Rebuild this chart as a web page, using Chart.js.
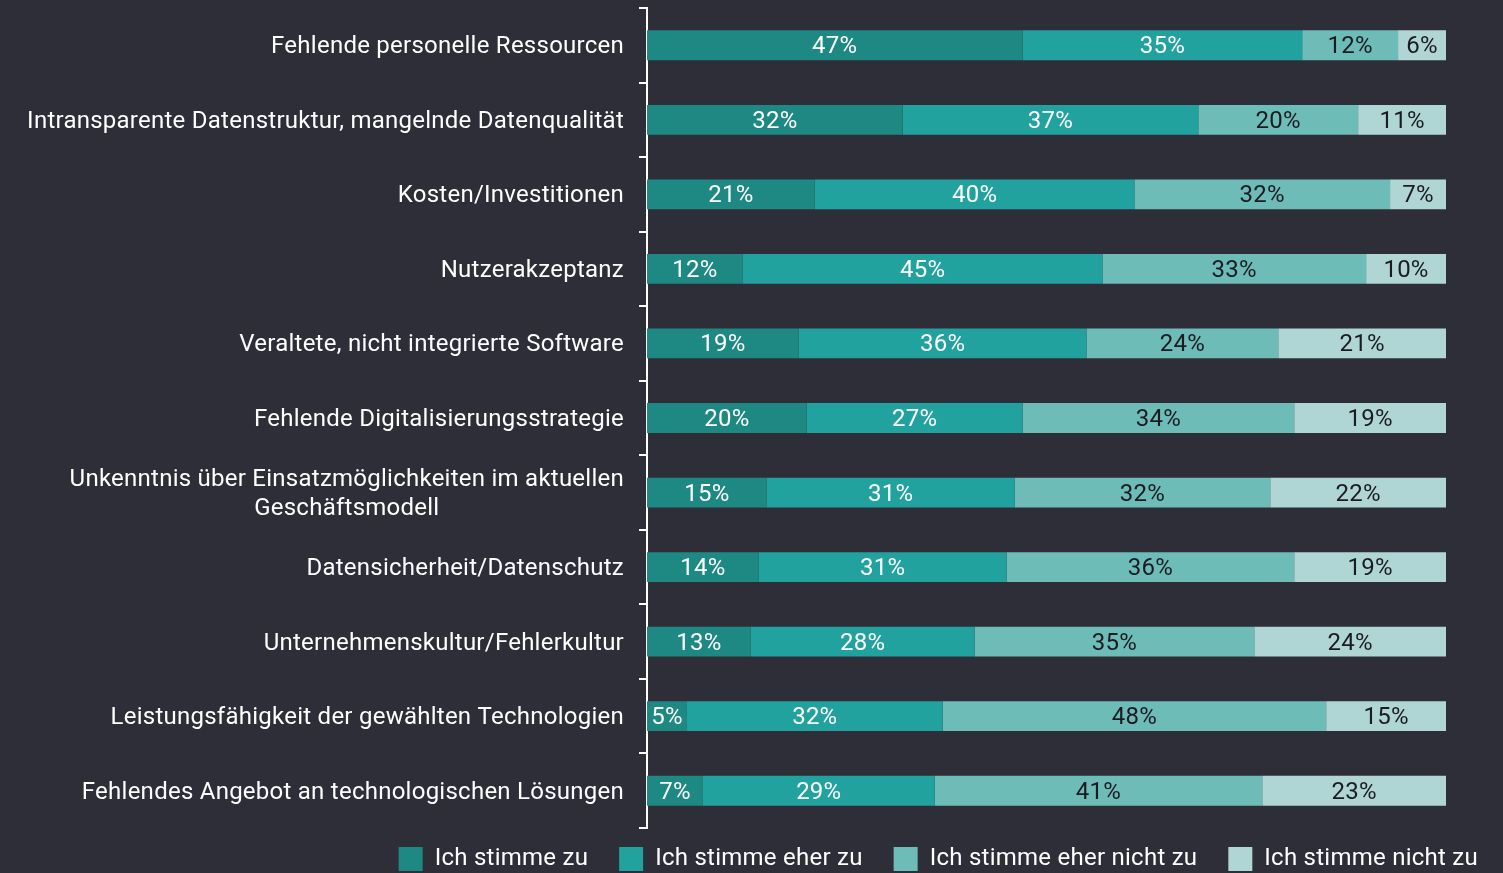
<!DOCTYPE html>
<html>
<head>
<meta charset="utf-8">
<script src="https://cdn.jsdelivr.net/npm/chart.js@4"></script>
<style>
  html, body { margin: 0; padding: 0; background: #2e2e38; overflow: hidden; }
  #wrap { position: relative; width: 1503px; height: 893px; }
</style>
</head>
<body>
<div id="wrap"><canvas id="chart"></canvas></div>
<script>
// Categories (top to bottom)
const categories = [
    'Fehlende personelle Ressourcen',
    'Intransparente Datenstruktur, mangelnde Datenqualität',
    'Kosten/Investitionen',
    'Nutzerakzeptanz',
    'Veraltete, nicht integrierte Software',
    'Fehlende Digitalisierungsstrategie',
    ['Unkenntnis über Einsatzmöglichkeiten im aktuellen', 'Geschäftsmodell'],
    'Datensicherheit/Datenschutz',
    'Unternehmenskultur/Fehlerkultur',
    'Leistungsfähigkeit der gewählten Technologien',
    'Fehlendes Angebot an technologischen Lösungen'
];

// Series values in %
const agree          = [47, 32, 21, 12, 19, 20, 15, 14, 13, 5, 7];
const ratherAgree    = [35, 37, 40, 45, 36, 27, 31, 31, 28, 32, 29];
const ratherDisagree = [12, 20, 32, 33, 24, 34, 32, 36, 35, 48, 41];
const disagree       = [6, 11, 7, 10, 21, 19, 22, 19, 24, 15, 23];

const seriesNames = ['Ich stimme zu', 'Ich stimme eher zu', 'Ich stimme eher nicht zu', 'Ich stimme nicht zu'];

const FONT = 'Roboto, "Open Sans", sans-serif';
const FONT_SIZE = 24;
const TRACKING = '0.25px';

// wide tracking like the original typeface (canvas state is reset on resize, so set it each time)
const tracking = {
    id: 'tracking',
    beforeUpdate(chart) { chart.ctx.letterSpacing = TRACKING; },
    beforeDraw(chart) { chart.ctx.letterSpacing = TRACKING; }
};

// pull the legend up closer to the plot and to the right like the original
const legendShift = {
    id: 'legendShift',
    afterLayout(chart) {
        const lg = chart.legend;
        if (!lg) return;
        lg.top -= 12; lg.bottom -= 12;
        lg.left += 63; lg.right += 63;
    }
};

// Draw the percentage inside each segment
const segmentLabels = {
    id: 'segmentLabels',
    afterDatasetsDraw(chart) {
        const ctx = chart.ctx;
        ctx.save();
        ctx.font = FONT_SIZE + 'px ' + FONT;
        ctx.textAlign = 'center';
        ctx.textBaseline = 'middle';
        chart.data.datasets.forEach((ds, di) => {
            const meta = chart.getDatasetMeta(di);
            meta.data.forEach((bar, i) => {
                const p = bar.getProps(['x', 'y', 'base'], true);
                ctx.fillStyle = di < 2 ? '#ffffff' : '#1b1b22';
                ctx.fillText(ds.data[i] + '%', (p.x + p.base) / 2, p.y + 2);
            });
        });
        ctx.restore();
    }
};

// Category labels: right aligned block, wrapped lines centered within it
const categoryLabels = {
    id: 'categoryLabels',
    afterDraw(chart) {
        const ctx = chart.ctx;
        const scale = chart.scales.y;
        const right = scale.right - 23;
        const lineH = 29;
        ctx.save();
        ctx.font = FONT_SIZE + 'px ' + FONT;
        ctx.fillStyle = '#ffffff';
        ctx.textBaseline = 'middle';
        ctx.textAlign = 'center';
        categories.forEach((cat, i) => {
            const lines = Array.isArray(cat) ? cat : [cat];
            const y = scale.getPixelForTick(i) + 2;
            const maxW = Math.max(...lines.map(l => ctx.measureText(l).width));
            const cx = right - maxW / 2;
            lines.forEach((l, k) => {
                ctx.fillText(l, cx, y + (k - (lines.length - 1) / 2) * lineH);
            });
        });
        ctx.restore();
    }
};

const colors = ['#1e8883', '#22a29f', '#6ebcb8', '#afd6d4'];
const values = [agree, ratherAgree, ratherDisagree, disagree];

new Chart(document.getElementById('chart'), {
    type: 'bar',
    data: {
        labels: categories,
        datasets: values.map((v, i) => ({
            label: seriesNames[i],
            data: v,
            backgroundColor: colors[i],
            borderWidth: 0,
            categoryPercentage: 1,
            barPercentage: 0.4
        }))
    },
    options: {
        indexAxis: 'y',
        responsive: true,
        maintainAspectRatio: false,
        animation: false,
        layout: { padding: { top: 8, right: 57, left: 0, bottom: 0 } },
        plugins: {
            tooltip: { enabled: false },
            legend: {
                position: 'bottom',
                align: 'end',
                labels: {
                    color: '#ffffff',
                    boxWidth: 24,
                    boxHeight: 24,
                    padding: 31,
                    font: { family: FONT, size: FONT_SIZE }
                }
            }
        },
        scales: {
            x: {
                stacked: true,
                display: false,
                min: 0,
                max: 100
            },
            y: {
                stacked: true,
                afterFit(scale) { scale.width = 647; },
                border: { color: '#ffffff', width: 2 },
                grid: {
                    drawOnChartArea: false,
                    drawTicks: true,
                    tickLength: 8,
                    color: '#ffffff',
                    lineWidth: 2
                },
                ticks: {
                    color: 'rgba(0,0,0,0)',
                    padding: 0,
                    font: { family: FONT, size: 8 }
                }
            }
        }
    },
    plugins: [tracking, legendShift, segmentLabels, categoryLabels]
});
</script>
</body>
</html>
